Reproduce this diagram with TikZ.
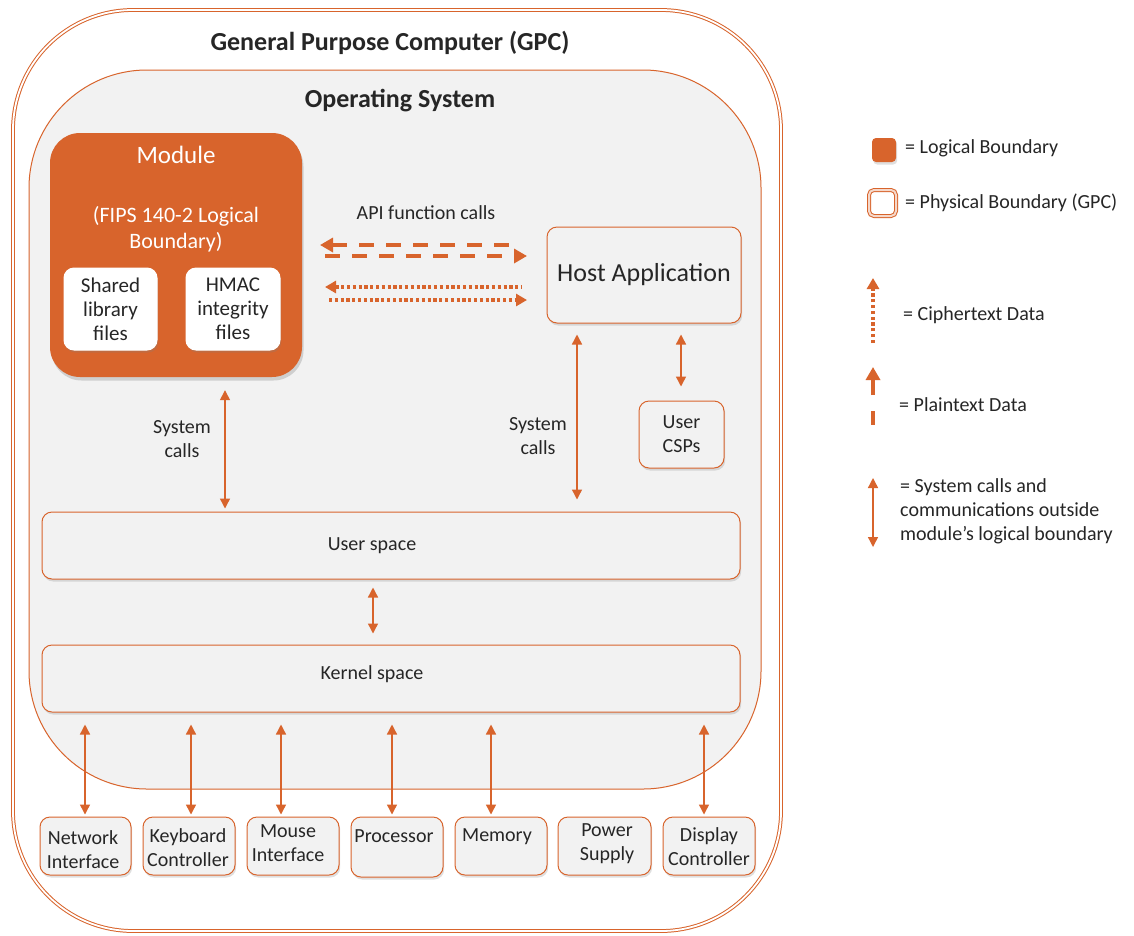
\documentclass[tikz,border=0pt]{standalone}
\usepackage{fontspec}
\setmainfont{Carlito}
\usetikzlibrary{arrows.meta,shadows,calc}
\definecolor{ora}{RGB}{216,100,44}
\definecolor{bg}{RGB}{242,242,242}
\definecolor{tc}{RGB}{38,38,38}
\tikzset{
  shad/.style={drop shadow={opacity=0.25,shadow xshift=1.2pt,shadow yshift=-2.5pt}},
  box/.style={draw=ora,line width=1pt,fill=bg,rounded corners=10pt,shad,inner sep=0pt,
     text=tc,font=\fontsize{20}{24}\selectfont,align=center},
  wbox/.style={box,fill=white,draw=white,rounded corners=10pt,font=\fontsize{21}{24}\selectfont},
  txt/.style={text=tc,font=\fontsize{20}{24}\selectfont,align=center,inner sep=0pt},
  ltxt/.style={text=tc,font=\fontsize{20}{24}\selectfont,align=left,anchor=west,inner sep=0pt},
  systip/.tip={Triangle[length=10pt,width=10pt]},
  bigtip/.tip={Triangle[length=13pt,width=14pt]},
  dottip/.tip={Triangle[length=11pt,width=12pt]},
  sys/.style={draw=ora,line width=1.4pt,{systip}-{systip}},
  plainarrow/.style={draw=ora,line width=4.5pt,dash pattern=on 15pt off 12pt},
  ciph/.style={draw=ora,line width=3.4pt,dash pattern=on 3.2pt off 2.6pt},
}
\begin{document}
\begin{tikzpicture}[x=1pt,y=-1pt]
\useasboundingbox (0,0) rectangle (1134,935);
\fill[white] (0,0) rectangle (1134,935);

% outer GPC frame
\draw[draw=ora,line width=1pt,double=white,double distance=1.8pt,rounded corners=120pt]
  (13,10) rectangle (781,931);
\node[txt,font=\fontsize{26}{30}\selectfont\bfseries] (gpc) at (390,43) {General Purpose Computer (GPC)};

% OS box
\draw[draw=ora,line width=1pt,fill=bg,rounded corners=118pt] (29,70) rectangle (761,789);
\node[txt,font=\fontsize{26}{30}\selectfont\bfseries] (os) at (400,101) {Operating System};

% Module
\node[draw=none,fill=ora,rounded corners=30pt,minimum width=252pt,minimum height=244pt,
      drop shadow={opacity=0.3,shadow xshift=1.5pt,shadow yshift=-3.5pt}] (module) at (176,255) {};
\node[txt,text=white,font=\fontsize{25}{30}\selectfont] (modt) at (176,155) {Module};
\node[txt,text=white,font=\fontsize{22}{26}\selectfont] (fips) at (176,229) {(FIPS 140-2 Logical\\Boundary)};
\node[wbox,minimum width=93pt,minimum height=82pt] (shared) at (110.5,309) {Shared\\library\\files};
\node[wbox,minimum width=94pt,minimum height=82pt] (hmac) at (233,309) {HMAC\\integrity\\files};

% Host application
\node[box,minimum width=194pt,minimum height=96pt,font=\fontsize{26}{30}\selectfont] (host) at (644,275) {Host Application};
\node[box,minimum width=85pt,minimum height=67pt] (csp) at (681.5,434.5) {User\\CSPs};

% API calls
\node[txt] (api) at (426,213) {API function calls};
\coordinate (pa1) at (320,245);
\coordinate (pa2) at (521,245);
\coordinate (pb1) at (325,256);
\coordinate (pb2) at (527,256);
\coordinate (ca1) at (325,287);
\coordinate (ca2) at (522,287);
\coordinate (cb1) at (329,300);
\coordinate (cb2) at (527,300);
\draw[plainarrow,{bigtip}-] (pa1) -- (pa2);
\draw[plainarrow,-{bigtip}] (pb1) -- (pb2);
\draw[ciph,{dottip}-] (ca1) -- (ca2);
\draw[ciph,-{dottip}] (cb1) -- (cb2);

% user & kernel space
\node[box,minimum width=698pt,minimum height=67pt] (user) at (391,545.5) {};
\node[txt] (usert) at (372,546) {User space};
\node[box,minimum width=698pt,minimum height=67pt] (kernel) at (391,678.5) {};
\node[txt] (kernelt) at (372,674) {Kernel space};

% system calls arrows
\draw[sys,shorten <=13pt,shorten >=3pt] (225,0 |- module.south) -- (225,0 |- user.north);
\node[txt] (sc1) at (182,439.5) {System\\calls};
\draw[sys,shorten <=11pt,shorten >=12pt] (577,0 |- host.south) -- (577,0 |- user.north);
\node[txt] (sc2) at (538,436.5) {System\\calls};
\draw[sys,shorten <=11pt,shorten >=14pt] (681,0 |- host.south) -- (681,0 |- csp.north);
\draw[sys,shorten <=8pt,shorten >=11pt] (373,0 |- user.south) -- (373,0 |- kernel.north);

% hardware boxes
\node[box,minimum width=91pt,minimum height=58pt] (net) at (85.5,846) {};
\node[box,minimum width=92pt,minimum height=58pt] (kbd) at (189,846) {};
\node[box,minimum width=92pt,minimum height=58pt] (mouse) at (293,846) {};
\node[box,minimum width=92pt,minimum height=60pt] (proc) at (397,847) {};
\node[box,minimum width=92pt,minimum height=58pt] (mem) at (501,846) {};
\node[box,minimum width=93pt,minimum height=58pt] (pow) at (604.5,846) {};
\node[box,minimum width=92pt,minimum height=58pt] (disp) at (709,846) {};
\node[txt] (nett) at (83,850) {Network\\Interface};
\node[txt] (kbdt) at (188,847.5) {Keyboard\\Controller};
\node[txt] (mouset) at (288,843.5) {Mouse\\Interface};
\node[txt] (proct) at (394,836) {Processor};
\node[txt] (memt) at (497,837) {Memory};
\node[txt] (powt) at (607,844) {Power\\Supply};
\node[txt] (dispt) at (709,846.5) {Display\\Controller};

\foreach \xx/\nn in {85/net,191/kbd,281/mouse,392/proc,491/mem,704/disp}{
  \draw[sys,shorten <=12pt,shorten >=2pt] (\xx,0 |- kernel.south) -- (\xx,0 |- \nn.north);
}

% legend
\node[fill=ora,rounded corners=4pt,minimum width=24pt,minimum height=24pt,inner sep=0pt,shad] (lg1) at (884,150) {};
\node[ltxt] (lg1t) at (905,148) {= Logical Boundary};
\node[draw=ora,line width=1pt,double=ora!25,double distance=2pt,fill=white,rounded corners=5pt,
      minimum width=27pt,minimum height=26pt,inner sep=0pt] (lg2) at (882.5,203) {};
\node[ltxt] (lg2t) at (905,203) {= Physical Boundary (GPC)};

\coordinate (lc1) at (873,343);
\coordinate (lc2) at (873,278);
\draw[ciph,-{dottip}] (lc1) -- (lc2);
\node[ltxt] (lg3t) at (903,315) {= Ciphertext Data};

\coordinate (lp1) at (873,395);
\coordinate (lp2) at (873,367);
\coordinate (lp3) at (873,411);
\coordinate (lp4) at (873,425);
\draw[draw=ora,line width=4.5pt,-{bigtip}] (lp1) -- (lp2);
\draw[draw=ora,line width=4.5pt] (lp3) -- (lp4);
\node[ltxt] (lg4t) at (899,405) {= Plaintext Data};

\coordinate (ls1) at (873,478);
\coordinate (ls2) at (873,547);
\draw[sys] (ls1) -- (ls2);
\node[ltxt,anchor=north west] (lg5t) at (900,478) {= System calls and\\communications outside\\module’s logical boundary};
\end{tikzpicture}
\end{document}
